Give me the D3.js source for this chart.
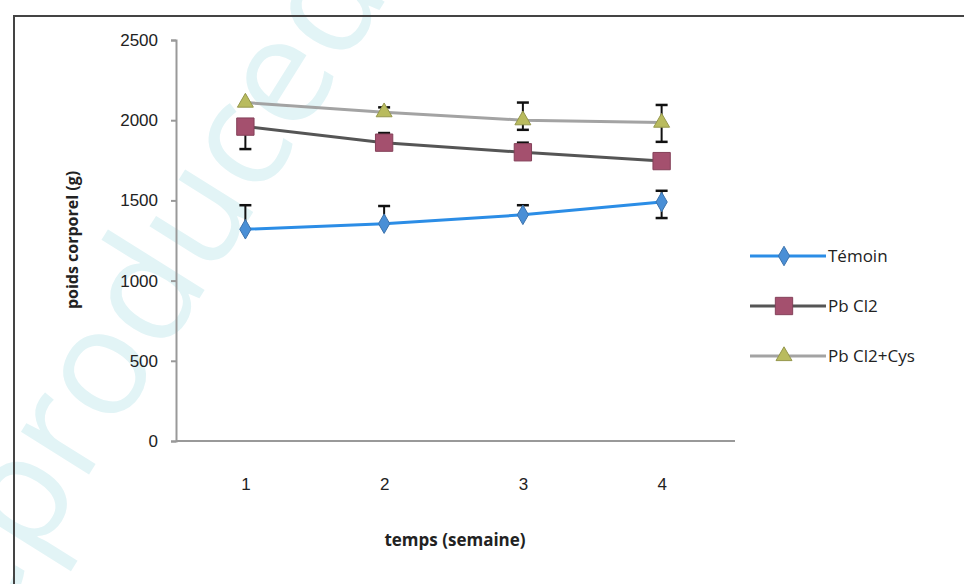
<!DOCTYPE html>
<html>
<head>
<meta charset="utf-8">
<script src="https://cdn.jsdelivr.net/npm/d3@7"></script>
<style>
  body { margin: 0; background: #fff; }
  svg { font-family: "Open Sans", "Noto Sans", sans-serif; }
</style>
</head>
<body>
<svg id="chart"></svg>
<script>
// Chart data
const weeks = ["1", "2", "3", "4"];
const seriesNames = ["Témoin", "Pb Cl2", "Pb Cl2+Cys"];
const temoin = [1320, 1355, 1410, 1490];
const pbcl2 = [1960, 1860, 1800, 1745];
const pbcl2Cys = [2110, 2050, 2000, 1985];
// error bars (upper / lower part as visible in the scan)
const temoinErrUp = [150, 110, 60, 70];
const temoinErrDown = [0, 0, 0, 100];
const pbcl2ErrUp = [0, 60, 60, 0];
const pbcl2ErrDown = [140, 0, 0, 0];
const cysErrUp = [0, 30, 110, 110];
const cysErrDown = [0, 0, 60, 120];
const yTicks = [0, 500, 1000, 1500, 2000, 2500];

const width = 964, height = 584;
const svg = d3.select("#chart").attr("width", width).attr("height", height);

// faint watermark of the scan
svg.append("text")
  .attr("transform", "translate(-60,713) rotate(-58)")
  .attr("font-size", 150)
  .attr("fill", "#e2f4f6")
  .text("Reproduced with permission");

// outer frame (only left and top visible)
svg.append("path")
  .attr("d", "M14,584 L14,16 L964,16")
  .attr("fill", "none")
  .attr("stroke", "#444")
  .attr("stroke-width", 2);

const x = d3.scalePoint().domain(weeks).range([176, 731]).padding(0.5);
const y = d3.scaleLinear().domain([0, 2500]).range([441, 40]);

// y axis
const yAxis = svg.append("g")
  .attr("transform", "translate(176,0)")
  .call(d3.axisLeft(y).tickValues(yTicks).tickFormat(d3.format("d")).tickSize(5).tickPadding(13));
yAxis.select(".domain").attr("stroke", "#999").attr("stroke-width", 2);
yAxis.selectAll(".tick line").attr("stroke", "#999").attr("stroke-width", 2);
yAxis.selectAll("text").attr("font-size", 17).attr("fill", "#222");

// x axis
const xAxis = svg.append("g")
  .attr("transform", "translate(0,441)")
  .call(d3.axisBottom(x).tickSize(0).tickPadding(37));
xAxis.select(".domain").attr("stroke", "#999").attr("stroke-width", 2)
  .attr("d", "M176,0H735");
xAxis.selectAll("text").attr("font-size", 17).attr("fill", "#222");

// axis titles
svg.append("text")
  .attr("x", 455).attr("y", 546)
  .attr("text-anchor", "middle")
  .attr("font-size", 17).attr("font-weight", "bold").attr("fill", "#222")
  .text("temps (semaine)");
svg.append("text")
  .attr("transform", "translate(78,240) rotate(-90)")
  .attr("text-anchor", "middle")
  .attr("font-size", 16).attr("font-weight", "bold").attr("fill", "#222")
  .text("poids corporel (g)");

const series = [
  { name: seriesNames[0], values: temoin, up: temoinErrUp, down: temoinErrDown,
    line: "#2b8de6", fill: "#4a8fd6", symbol: d3.symbolDiamond, size: 110 },
  { name: seriesNames[1], values: pbcl2, up: pbcl2ErrUp, down: pbcl2ErrDown,
    line: "#555555", fill: "#a4506e", symbol: d3.symbolSquare, size: 300 },
  { name: seriesNames[2], values: pbcl2Cys, up: cysErrUp, down: cysErrDown,
    line: "#a3a3a3", fill: "#b9bb5e", symbol: d3.symbolTriangle, size: 110 }
];

const line = d3.line().x(d => x(d.w)).y(d => y(d.v));

series.forEach(s => {
  const pts = weeks.map((w, i) => ({ w, v: s.values[i], up: s.up[i], down: s.down[i] }));
  const g = svg.append("g");

  // error bars
  pts.forEach(p => {
    const cx = x(p.w);
    [[p.up, 1], [p.down, -1]].forEach(([e, dir]) => {
      if (!e) return;
      const yEnd = y(p.v + dir * e);
      g.append("line")
        .attr("x1", cx).attr("x2", cx)
        .attr("y1", y(p.v)).attr("y2", yEnd)
        .attr("stroke", "#111").attr("stroke-width", 2);
      g.append("line")
        .attr("x1", cx - 6).attr("x2", cx + 6)
        .attr("y1", yEnd).attr("y2", yEnd)
        .attr("stroke", "#111").attr("stroke-width", 2.5);
    });
  });

  g.append("path")
    .datum(pts)
    .attr("d", line)
    .attr("fill", "none")
    .attr("stroke", s.line)
    .attr("stroke-width", 3);

  g.selectAll("path.marker")
    .data(pts)
    .join("path")
    .attr("class", "marker")
    .attr("transform", d => `translate(${x(d.w)},${y(d.v)})`)
    .attr("d", d3.symbol().type(s.symbol).size(s.size))
    .attr("fill", s.fill)
    .attr("stroke", d3.color(s.fill).darker(0.6))
    .attr("stroke-width", 1);
});

// legend
const legend = svg.append("g").attr("transform", "translate(750,256)");
series.forEach((s, i) => {
  const row = legend.append("g").attr("transform", `translate(0,${i * 50})`);
  row.append("line")
    .attr("x1", 0).attr("x2", 76)
    .attr("stroke", s.line).attr("stroke-width", 3);
  row.append("path")
    .attr("transform", "translate(34,0)")
    .attr("d", d3.symbol().type(s.symbol).size(s.size))
    .attr("fill", s.fill)
    .attr("stroke", d3.color(s.fill).darker(0.6));
  row.append("text")
    .attr("x", 78).attr("y", 0).attr("dy", "0.35em")
    .attr("font-size", 17).attr("fill", "#222")
    .text(s.name);
});
</script>
</body>
</html>
